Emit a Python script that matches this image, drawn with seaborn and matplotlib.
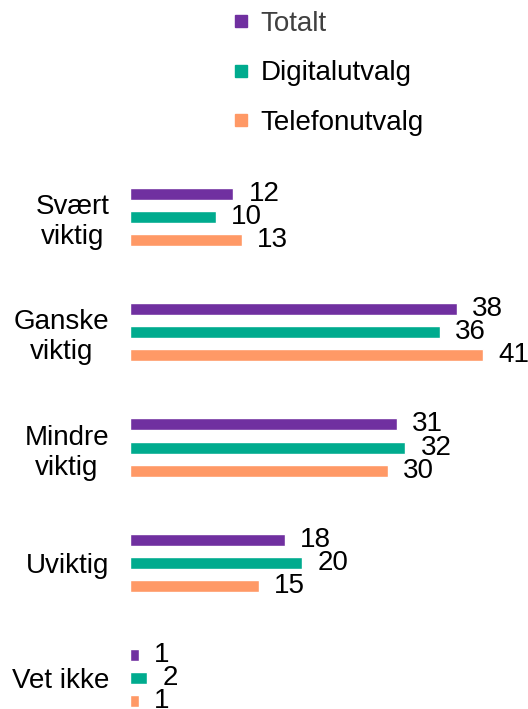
import pandas as pd
import matplotlib.pyplot as plt
import seaborn as sns
from matplotlib.lines import Line2D

# Data
categories = ["Svært\nviktig", "Ganske\nviktig", "Mindre\nviktig", "Uviktig", "Vet ikke"]
series = ["Totalt", "Digitalutvalg", "Telefonutvalg"]
totalt = [12, 38, 31, 18, 1]
digital = [10, 36, 32, 20, 2]
telefon = [13, 41, 30, 15, 1]
colors = ["#7030A0", "#00AB8E", "#FF9966"]

df = pd.DataFrame({
    "Kategori": categories * 3,
    "Utvalg": [series[0]] * 5 + [series[1]] * 5 + [series[2]] * 5,
    "Prosent": totalt + digital + telefon,
})

sns.set_style("white")
plt.rcParams["font.family"] = ["Liberation Sans", "DejaVu Sans"]
plt.rcParams["text.color"] = "black"
plt.rcParams["ytick.color"] = "black"

fig = plt.figure(figsize=(5.28, 7.09), dpi=100)
ax = fig.add_axes([130 / 528, 0, 395.6 / 528, 549 / 709])

sns.barplot(
    data=df, y="Kategori", x="Prosent", hue="Utvalg",
    order=categories, hue_order=series, palette=colors,
    orient="h", width=0.6, gap=0.48, saturation=1, ax=ax, legend=False,
)

for cont in ax.containers:
    ax.bar_label(cont, padding=11, fontsize=20, color="black")

ax.set_xlim(0, 46)
ax.set_ylim(4.27, -0.496)
ax.set_xlabel("")
ax.set_ylabel("")
ax.set_xticks([])
sns.despine(ax=ax, left=True, bottom=True)
ax.tick_params(axis="y", length=0, pad=15, labelsize=20, labelcolor="black")
for lab in ax.get_yticklabels():
    lab.set_multialignment("center")

# Legend
handles = [Line2D([0], [0], marker="s", linestyle="", markersize=8,
                  markerfacecolor=c, markeredgecolor=c) for c in colors]
leg = fig.legend(handles, series, loc="upper left",
                 bbox_to_anchor=(216 / 528, 1 + 3 / 709),
                 frameon=False, fontsize=20, labelspacing=0.85,
                 handlelength=0.8, handletextpad=0.3, borderpad=0)
leg.get_texts()[0].set_color("#404040")
for t in leg.get_texts()[1:]:
    t.set_color("black")

fig.savefig("out.png", dpi=100)
